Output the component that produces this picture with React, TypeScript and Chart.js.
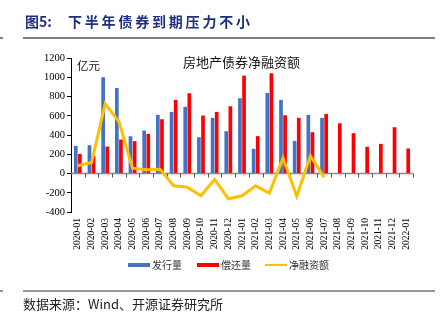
import React, { useEffect, useRef } from "react";
import { Chart, registerables } from "chart.js";

Chart.register(...registerables);

const categories = [
  "2020-01", "2020-02", "2020-03", "2020-04", "2020-05", "2020-06", "2020-07",
  "2020-08", "2020-09", "2020-10", "2020-11", "2020-12", "2021-01", "2021-02",
  "2021-03", "2021-04", "2021-05", "2021-06", "2021-07", "2021-08", "2021-09",
  "2021-10", "2021-11", "2021-12", "2022-01",
];

const issuance: (number | null)[] = [
  287, 294, 1000, 889, 387, 446, 609, 640, 692, 377, 578, 439, 782, 256, 837,
  765, 339, 609, 578, null, null, null, null, null, null,
];

const repayment: number[] = [
  204, 180, 280, 353, 336, 412, 564, 765, 834, 602, 640, 699, 1017, 388, 1041,
  605, 578, 429, 619, 522, 419, 277, 308, 481, 260,
];

const netFinancing: (number | null)[] = [
  80, 114, 723, 540, 55, 38, 45, -128, -142, -232, -62, -262, -232, -128, -204,
  160, -237, 182, -38, null, null, null, null, null, null,
];

const yTicks = [-400, -200, 0, 200, 400, 600, 800, 1000, 1200];

const seriesNames = ["发行量", "偿还量", "净融资额"];
const figureTitle = "图5:";
const figureHeadline = "下半年债券到期压力不小";
const chartTitle = "房地产债券净融资额";
const unitLabel = "亿元";
const sourceText = "数据来源：Wind、开源证券研究所";

const BLUE = "#4472C4";
const RED = "#FF0000";
const ORANGE = "#FFC000";
const CJK = '"Noto Sans CJK SC"';
const SERIF = "'Liberation Serif', 'Times New Roman', serif";

const decor = {
  id: "decor",
  beforeDatasetsDraw(chart: any) {
    const { ctx, chartArea, scales } = chart;
    const y0 = scales.y.getPixelForValue(0);
    const n = categories.length;
    const w = (chartArea.right - chartArea.left) / n;
    ctx.save();
    ctx.strokeStyle = "#8c8c8c";
    ctx.lineWidth = 1.5;
    ctx.beginPath();
    ctx.moveTo(chartArea.left, y0);
    ctx.lineTo(chartArea.right, y0);
    ctx.stroke();
    ctx.lineWidth = 1;
    ctx.strokeStyle = "#555";
    for (let i = 1; i <= n; i++) {
      const x = Math.round(chartArea.left + i * w) + 0.5;
      ctx.beginPath();
      ctx.moveTo(x, y0);
      ctx.lineTo(x, y0 + 4);
      ctx.stroke();
    }
    ctx.restore();
  },
  afterDraw(chart: any) {
    const { ctx } = chart;
    ctx.save();
    ctx.textBaseline = "middle";
    ctx.fillStyle = "#1F2F7F";
    ctx.font = `bold 14px ${CJK}`;
    ctx.textAlign = "left";
    ctx.fillText(figureTitle, 25, 22);
    (ctx as any).letterSpacing = "2.8px";
    ctx.fillText(figureHeadline, 68, 22);
    (ctx as any).letterSpacing = "0px";
    ctx.strokeStyle = "#555";
    ctx.lineWidth = 1.5;
    ctx.beginPath();
    ctx.moveTo(23, 38);
    ctx.lineTo(435, 38);
    ctx.moveTo(0, 38);
    ctx.lineTo(3, 38);
    ctx.stroke();
    ctx.fillStyle = "#111";
    ctx.font = `13px ${CJK}`;
    ctx.fillText(chartTitle, 183, 62);
    ctx.font = `11.5px ${CJK}`;
    ctx.fillText(unitLabel, 77, 66);
    const ly = 265;
    ctx.fillStyle = BLUE;
    ctx.fillRect(128, ly - 2, 22, 4);
    ctx.fillStyle = RED;
    ctx.fillRect(197, ly - 2, 22, 4);
    ctx.strokeStyle = ORANGE;
    ctx.lineWidth = 2;
    ctx.beginPath();
    ctx.moveTo(265, ly);
    ctx.lineTo(287, ly);
    ctx.stroke();
    ctx.fillStyle = "#333";
    ctx.font = `10px ${CJK}`;
    ctx.fillText(seriesNames[0], 152, ly);
    ctx.fillText(seriesNames[1], 221, ly);
    ctx.fillText(seriesNames[2], 289, ly);
    ctx.strokeStyle = "#999";
    ctx.lineWidth = 2;
    ctx.beginPath();
    ctx.moveTo(23, 291);
    ctx.lineTo(435, 291);
    ctx.moveTo(0, 291);
    ctx.lineTo(3, 291);
    ctx.stroke();
    ctx.fillStyle = "#222";
    ctx.font = `13px ${CJK}`;
    ctx.fillText(sourceText, 23, 304);
    ctx.restore();
  },
};

export default function App() {
  const ref = useRef<HTMLCanvasElement | null>(null);
  useEffect(() => {
    if (!ref.current) return;
    const chart = new Chart(ref.current, {
      type: "bar",
      data: {
        labels: categories,
        datasets: [
          {
            type: "line",
            label: seriesNames[2],
            data: netFinancing,
            borderColor: ORANGE,
            backgroundColor: ORANGE,
            borderWidth: 3,
            pointRadius: 0,
            tension: 0,
            order: 0,
          } as any,
          {
            type: "bar",
            label: seriesNames[0],
            data: issuance,
            backgroundColor: BLUE,
            categoryPercentage: 0.6,
            barPercentage: 0.9,
            order: 1,
          },
          {
            type: "bar",
            label: seriesNames[1],
            data: repayment,
            backgroundColor: RED,
            categoryPercentage: 0.6,
            barPercentage: 0.9,
            order: 1,
          },
        ],
      },
      options: {
        responsive: false,
        animation: false,
        devicePixelRatio: 1,
        layout: { padding: { left: 0, right: 31, top: 58, bottom: 0 } },
        plugins: {
          legend: { display: false },
          tooltip: { enabled: false },
          title: { display: false },
        },
        scales: {
          x: {
            grid: { display: false, drawTicks: false },
            border: { display: false },
            ticks: {
              autoSkip: false,
              maxRotation: 90,
              minRotation: 90,
              padding: 6,
              color: "#000",
              font: { family: SERIF, size: 9.5 },
            },
            afterFit: (s: any) => {
              s.height = 113;
            },
          },
          y: {
            min: -400,
            max: 1200,
            afterBuildTicks: (s: any) => {
              s.ticks = yTicks.map((v) => ({ value: v }));
            },
            grid: {
              drawOnChartArea: false,
              drawTicks: true,
              tickLength: 4,
              color: "#000",
            },
            border: { color: "#000", width: 1 },
            ticks: {
              padding: 2,
              color: "#000",
              font: { family: SERIF, size: 10.5 },
              callback: (v: any) => String(v),
            },
            afterFit: (s: any) => {
              s.width = 71;
            },
          },
        },
      },
      plugins: [decor],
    });
    return () => chart.destroy();
  }, []);
  return (
    <div style={{ position: "fixed", left: 0, top: 0, width: 444, height: 325, background: "#fff" }}>
      <canvas ref={ref} width={444} height={325} style={{ width: 444, height: 325, display: "block" }} />
    </div>
  );
}
